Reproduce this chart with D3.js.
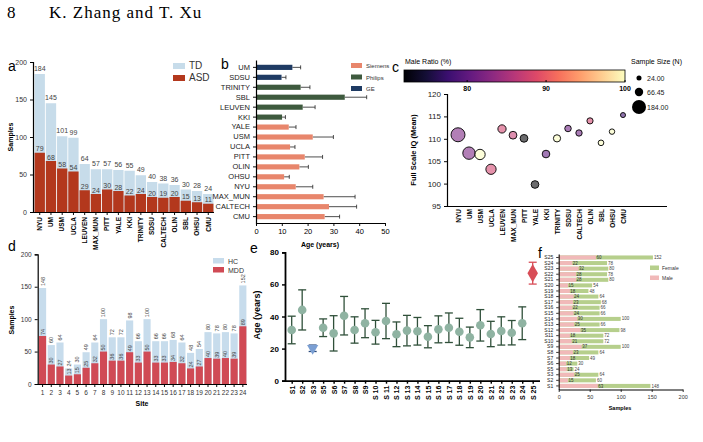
<!DOCTYPE html>
<html>
<head>
<meta charset="UTF-8">
<script src="https://d3js.org/d3.v7.min.js"></script>
<style>
  body { margin: 0; background: #fff; }
  svg text { font-family: "Liberation Sans", Arial, sans-serif; }
  .axis path, .axis line { stroke: #000; }
  .bold text { font-weight: bold; }
</style>
</head>
<body>
<svg id="fig" width="703" height="442"></svg>
<script>
// ---- panel a: samples per site (TD / ASD)
let sitesA = ["NYU","UM","USM","UCLA","LEUVEN","MAX_MUN","PITT","YALE","KKI","TRINITY","SDSU","CALTECH","OLIN","SBL","OHSU","CMU"];
let totalA = [184,145,101,99,64,57,57,56,55,49,40,38,36,30,28,24];
let asdA   = [79,68,58,54,29,24,30,28,22,24,20,19,20,15,13,11];

// ---- panel b: age by site and scanner
let sitesB  = ["UM","SDSU","TRINITY","SBL","LEUVEN","KKI","YALE","USM","UCLA","PITT","OLIN","OHSU","NYU","MAX_MUN","CALTECH","CMU"];
let ageB    = [14.1,9.9,17.3,34.4,18.1,10.1,12.7,22.0,13.2,18.9,16.8,10.9,15.4,26.2,28.3,26.6];
let ageSdB  = [3.2,1.7,3.6,8.5,4.8,1.3,2.8,8.0,1.9,6.9,3.5,2.0,6.6,12.2,10.7,5.8];
let scannerB = ["GE","GE","Philips","Philips","Philips","Philips","Siemens","Siemens","Siemens","Siemens","Siemens","Siemens","Siemens","Siemens","Siemens","Siemens"];
let scanners = ["Siemens","Philips","GE"];

// ---- panel c: FIQ vs site, colour = male ratio, size = N
let sitesC = ["NYU","UM","USM","UCLA","LEUVEN","MAX_MUN","PITT","YALE","KKI","TRINITY","SDSU","CALTECH","OLIN","SBL","OHSU","CMU"];
let iqC    = [110.9,106.8,106.5,103.2,112.2,110.8,110.1,99.8,106.6,110.1,112.3,111.3,114.0,109.1,111.6,115.3];
let maleC  = [82,82,100,88,88,87,72,72,80,100,81,81,88,100,100,78];
let nC     = [184,145,101,99,64,57,57,56,55,49,40,38,36,30,28,24];
let sizeLegend = [24.00, 66.45, 184.00];

// ---- panel d: samples per site (HC / MDD)
let sitesD = d3.range(1, 25);
let totalD = [148,60,64,24,30,49,64,100,72,72,98,66,100,66,66,68,64,48,54,80,78,80,78,152];
let mddD   = [74,30,27,13,15,25,32,50,36,36,49,33,50,33,33,34,32,24,27,40,39,40,39,89];

// ---- panel e: age mean and sd per site
let sitesE = ["S1","S2","S3","S5","S6","S7","S8","S9","S10","S11","S12","S13","S14","S15","S16","S17","S18","S19","S20","S21","S22","S23","S24","S25"];
let ageE   = [31.6,44.1,20.2,33.0,29.5,40.5,31.6,35.8,30.2,37.2,28.9,31.2,30.8,27.4,32.0,33.0,30.5,27.0,34.5,29.1,31.0,29.9,35.8,67.0];
let sdE    = [8.6,12.5,2.0,5.5,11.0,12.0,8.2,9.0,7.4,11.0,7.7,9.5,8.6,6.9,8.4,9.2,8.4,6.4,9.8,7.9,8.8,7.6,10.2,6.8];

// ---- panel f: sex per site
let sitesF  = ["S25","S24","S23","S22","S21","S20","S19","S18","S17","S16","S15","S14","S13","S12","S11","S10","S9","S8","S7","S6","S5","S3","S2","S1"];
let maleF   = [60,22,32,28,28,15,18,24,23,22,24,30,25,35,18,21,37,23,18,12,13,25,15,63];
let totalF  = [152,78,80,78,80,54,48,64,68,66,66,100,66,98,72,72,100,64,49,30,24,64,60,148];

let svg = d3.select("#fig");

// page header
svg.append("text").attr("x", 7).attr("y", 18).text("8")
  .style("font-family", "'Liberation Serif', serif").style("font-size", "17px");
svg.append("text").attr("x", 49).attr("y", 18).text("K. Zhang and T. Xu")
  .style("font-family", "'Liberation Serif', serif").style("font-size", "17px").style("letter-spacing", "1px");

function panelLetter(x, y, t) {
  svg.append("text").attr("x", x).attr("y", y).text(t).style("font-size", "14px");
}
function styleAxis(g, w, fs) {
  g.select(".domain").attr("stroke-width", w);
  g.selectAll(".tick line").attr("stroke-width", w * 0.8);
  g.selectAll("text").style("font-size", fs + "px").attr("fill", "#000");
}

// ===================== a =====================
panelLetter(8, 71, "a");
let xa = d3.scaleBand().domain(sitesA).range([34, 214]).paddingInner(0.08).paddingOuter(0.05);
let ya = d3.scaleLinear().domain([0, 200]).range([212, 62]);
let ga = svg.append("g");
ga.selectAll(".td").data(sitesA).join("rect")
  .attr("x", d => xa(d)).attr("width", xa.bandwidth())
  .attr("y", (d, i) => ya(totalA[i])).attr("height", (d, i) => ya(0) - ya(totalA[i]))
  .attr("fill", "#c7dcea");
ga.selectAll(".asd").data(sitesA).join("rect")
  .attr("x", d => xa(d)).attr("width", xa.bandwidth())
  .attr("y", (d, i) => ya(asdA[i])).attr("height", (d, i) => ya(0) - ya(asdA[i]))
  .attr("fill", "#b3381d");
ga.selectAll(".lt").data(sitesA).join("text")
  .attr("x", d => xa(d) + xa.bandwidth() / 2).attr("y", (d, i) => ya(totalA[i]) - 3)
  .attr("text-anchor", "middle").style("font-size", "7px").attr("fill", "#444")
  .text((d, i) => totalA[i]);
ga.selectAll(".la").data(sitesA).join("text")
  .attr("x", d => xa(d) + xa.bandwidth() / 2).attr("y", (d, i) => ya(asdA[i]) - 1.5)
  .attr("text-anchor", "middle").style("font-size", "7px").attr("fill", "#444")
  .text((d, i) => asdA[i]);
let axA = ga.append("g").attr("class", "axis").attr("transform", "translate(33,0)")
  .call(d3.axisLeft(ya).tickValues([0, 50, 100, 150, 200]).tickSize(3));
styleAxis(axA, 1.2, 7);
axA.selectAll("text").attr("fill", "#333");
let axAx = ga.append("g").attr("class", "axis bold").attr("transform", "translate(0,212)")
  .call(d3.axisBottom(xa).tickSize(3).tickSizeOuter(0));
styleAxis(axAx, 1.2, 6.5);
axAx.select(".domain").attr("d", "M33,0.5H214");
axAx.selectAll("text").attr("transform", "rotate(-90)").attr("text-anchor", "end")
  .attr("x", -5).attr("y", 0).attr("dy", "0.35em");
ga.append("text").attr("transform", "translate(13,137) rotate(-90)").attr("text-anchor", "middle")
  .style("font-size", "7px").style("font-weight", "bold").text("Samples");
[["TD", "#c7dcea", 63], ["ASD", "#b3381d", 75]].forEach(l => {
  ga.append("rect").attr("x", 173).attr("y", l[2]).attr("width", 12).attr("height", 6).attr("fill", l[1]);
  ga.append("text").attr("x", 189).attr("y", l[2] + 6).text(l[0]).style("font-size", "10px").attr("fill", "#333");
});

// ===================== b =====================
panelLetter(221, 69, "b");
let sColor = d3.scaleOrdinal().domain(scanners).range(["#e8866c", "#3e5a3e", "#1f3b63"]);
let xb = d3.scaleLinear().domain([0, 50]).range([256, 385]);
let yb = d3.scaleBand().domain(sitesB).range([60, 224]).padding(0.48);
let gb = svg.append("g");
gb.selectAll(".eb").data(sitesB).join("line")
  .attr("x1", (d, i) => xb(ageB[i])).attr("x2", (d, i) => xb(ageB[i] + ageSdB[i]))
  .attr("y1", d => yb(d) + yb.bandwidth() / 2).attr("y2", d => yb(d) + yb.bandwidth() / 2)
  .attr("stroke", "#222").attr("stroke-width", 0.8);
gb.selectAll(".ec").data(sitesB).join("line")
  .attr("x1", (d, i) => xb(ageB[i] + ageSdB[i])).attr("x2", (d, i) => xb(ageB[i] + ageSdB[i]))
  .attr("y1", d => yb(d) + yb.bandwidth() / 2 - 2).attr("y2", d => yb(d) + yb.bandwidth() / 2 + 2)
  .attr("stroke", "#222").attr("stroke-width", 0.8);
gb.selectAll(".bb").data(sitesB).join("rect")
  .attr("x", xb(0)).attr("y", d => yb(d)).attr("height", yb.bandwidth())
  .attr("width", (d, i) => xb(ageB[i]) - xb(0))
  .attr("fill", (d, i) => sColor(scannerB[i]));
let axBy = gb.append("g").attr("class", "axis").attr("transform", "translate(256,0)")
  .call(d3.axisLeft(yb).tickSize(3).tickSizeOuter(0));
styleAxis(axBy, 1.2, 7.5);
axBy.selectAll("text").attr("fill", "#222");
let axBx = gb.append("g").attr("class", "axis").attr("transform", "translate(0,223)")
  .call(d3.axisBottom(xb).ticks(5).tickSize(3).tickSizeOuter(0));
styleAxis(axBx, 1.2, 7.5);
axBx.selectAll("text").attr("dy", "0.6em");
gb.append("text").attr("x", 320).attr("y", 247).attr("text-anchor", "middle")
  .style("font-size", "7px").style("font-weight", "bold").text("Age (years)");
scanners.forEach((s, i) => {
  gb.append("rect").attr("x", 351).attr("y", 63 + i * 11.5).attr("width", 11).attr("height", 5).attr("fill", sColor(s));
  gb.append("text").attr("x", 366).attr("y", 68 + i * 11.5).text(s).style("font-size", "6px").attr("fill", "#333");
});

// ===================== c =====================
panelLetter(392, 72, "c");
let cbar = d3.scaleLinear().domain([72, 100]).range([404, 625]);
let defs = svg.append("defs");
let grad = defs.append("linearGradient").attr("id", "magma");
d3.range(0, 1.01, 0.1).forEach(t => {
  grad.append("stop").attr("offset", t).attr("stop-color", d3.interpolateMagma(t));
});
let gc = svg.append("g");
gc.append("rect").attr("x", 404).attr("y", 70).attr("width", 221).attr("height", 12)
  .attr("fill", "url(#magma)").attr("stroke", "#000").attr("stroke-width", 0.8);
[80, 90, 100].forEach(v => {
  gc.append("line").attr("x1", cbar(v)).attr("x2", cbar(v)).attr("y1", 80).attr("y2", 82).attr("stroke", "#000");
  gc.append("text").attr("x", cbar(v)).attr("y", 91).attr("text-anchor", "middle")
    .style("font-size", "7px").style("font-weight", "bold").text(v);
});
gc.append("text").attr("x", 405).attr("y", 64).text("Male Ratio (%)").style("font-size", "7px");
gc.append("text").attr("x", 631).attr("y", 64).text("Sample Size (N)").style("font-size", "7px");
let rC = d3.scaleSqrt().domain([0, 184]).range([0, 7]);
let colC = v => d3.interpolateMagma((v - 72) / 28);
[78, 92, 107].forEach((y, i) => {
  gc.append("circle").attr("cx", 639).attr("cy", y).attr("r", rC(sizeLegend[i])).attr("fill", "#000");
  gc.append("text").attr("x", 647).attr("y", y + 2.5).text(sizeLegend[i].toFixed(2)).style("font-size", "7px").attr("fill", "#222");
});
let xc = d3.scalePoint().domain(sitesC).range([458, 623]);
let yc = d3.scaleLinear().domain([95, 120]).range([206, 94]);
gc.selectAll(".dot").data(sitesC).join("circle")
  .attr("cx", d => xc(d)).attr("cy", (d, i) => yc(iqC[i])).attr("r", (d, i) => rC(nC[i]))
  .attr("fill", (d, i) => colC(maleC[i])).attr("fill-opacity", 0.58)
  .attr("stroke", "#000").attr("stroke-width", 0.9);
let axCy = gc.append("g").attr("class", "axis").attr("transform", "translate(447,0)")
  .call(d3.axisLeft(yc).tickValues([95, 100, 105, 110, 115, 120]).tickSize(3));
styleAxis(axCy, 1.2, 8);
axCy.selectAll("text").attr("fill", "#222");
let axCx = gc.append("g").attr("class", "axis bold").attr("transform", "translate(0,206)")
  .call(d3.axisBottom(xc).tickSize(0).tickSizeOuter(0));
styleAxis(axCx, 1.2, 6.5);
axCx.select(".domain").attr("d", "M447,0.5H667");
axCx.selectAll("text").attr("transform", "rotate(-90)").attr("text-anchor", "end")
  .attr("x", -3).attr("y", 0).attr("dy", "0.35em");
gc.append("text").attr("transform", "translate(416,150) rotate(-90)").attr("text-anchor", "middle")
  .style("font-size", "7.5px").style("font-weight", "bold").text("Full Scale IQ (Mean)");

// ===================== d =====================
panelLetter(8, 251, "d");
let xd = d3.scaleBand().domain(sitesD).range([39, 246.4]).paddingInner(0.18);
let yd = d3.scaleLinear().domain([0, 200]).range([384, 254.3]);
let gd = svg.append("g");
gd.selectAll(".hc").data(sitesD).join("rect")
  .attr("x", d => xd(d)).attr("width", xd.bandwidth())
  .attr("y", (d, i) => yd(totalD[i])).attr("height", (d, i) => yd(0) - yd(totalD[i]))
  .attr("fill", "#c7dcec");
gd.selectAll(".mdd").data(sitesD).join("rect")
  .attr("x", d => xd(d)).attr("width", xd.bandwidth())
  .attr("y", (d, i) => yd(mddD[i])).attr("height", (d, i) => yd(0) - yd(mddD[i]))
  .attr("fill", "#d04a55");
gd.selectAll(".lt").data(sitesD).join("text")
  .attr("transform", (d, i) => `translate(${xd(d) + xd.bandwidth() / 2},${yd(totalD[i]) - 2}) rotate(-90)`)
  .attr("dy", "0.35em").style("font-size", "5.5px").attr("fill", "#444")
  .text((d, i) => totalD[i]);
gd.selectAll(".lm").data(sitesD).join("text")
  .attr("transform", (d, i) => `translate(${xd(d) + xd.bandwidth() / 2},${yd(mddD[i]) - 1}) rotate(-90)`)
  .attr("dy", "0.35em").style("font-size", "5.5px").attr("fill", "#444")
  .text((d, i) => mddD[i]);
let axD = gd.append("g").attr("class", "axis").attr("transform", "translate(37.7,0)")
  .call(d3.axisLeft(yd).tickValues([0, 50, 100, 150, 200]).tickSize(3));
styleAxis(axD, 1.2, 6.5);
axD.selectAll("text").attr("fill", "#333");
let axDx = gd.append("g").attr("class", "axis").attr("transform", "translate(0,384)")
  .call(d3.axisBottom(xd).tickSize(3).tickSizeOuter(0));
styleAxis(axDx, 1.2, 6.5);
axDx.select(".domain").attr("d", "M37.7,0.5H247");
axDx.selectAll("text").attr("fill", "#333");
gd.append("text").attr("x", 142).attr("y", 406).attr("text-anchor", "middle")
  .style("font-size", "7px").style("font-weight", "bold").text("Site");
gd.append("text").attr("transform", "translate(14,320) rotate(-90)").attr("text-anchor", "middle")
  .style("font-size", "7px").style("font-weight", "bold").text("Samples");
[["HC", "#c7dcec", 258], ["MDD", "#d04a55", 267]].forEach(l => {
  gd.append("rect").attr("x", 213).attr("y", l[2]).attr("width", 11).attr("height", 5.5).attr("fill", l[1]);
  gd.append("text").attr("x", 228).attr("y", l[2] + 5.5).text(l[0]).style("font-size", "7px").attr("fill", "#333");
});

// ===================== e =====================
panelLetter(250, 253, "e");
let xe = d3.scalePoint().domain(sitesE).range([291.7, 532.7]);
let ye = d3.scaleLinear().domain([0, 80]).range([380.7, 252.3]);
let ge = svg.append("g");
let styleE = s => s === "S3" ? ["#7b9fd3", "#29497a"] : s === "S25" ? ["#d84d57", "#d84d57"] : ["#8fb3a2", "#30503a"];
sitesE.forEach((s, i) => {
  let cx = xe(s), c = styleE(s);
  let top = ye(ageE[i] + sdE[i]), bot = ye(ageE[i] - sdE[i]), cy = ye(ageE[i]);
  ge.append("line").attr("x1", cx).attr("x2", cx).attr("y1", top).attr("y2", bot).attr("stroke", c[1]).attr("stroke-width", 1.3);
  [top, bot].forEach(y => ge.append("line").attr("x1", cx - 4).attr("x2", cx + 4).attr("y1", y).attr("y2", y)
    .attr("stroke", c[1]).attr("stroke-width", 1.3));
  if (s === "S3") {
    ge.append("path").attr("d", d3.symbol(d3.symbolTriangle, 55)()).attr("transform", `translate(${cx},${cy}) rotate(180)`).attr("fill", c[0]);
  } else if (s === "S25") {
    ge.append("path").attr("d", d3.symbol(d3.symbolDiamond, 95)()).attr("transform", `translate(${cx},${cy})`).attr("fill", c[0]);
  } else {
    ge.append("circle").attr("cx", cx).attr("cy", cy).attr("r", 4.3).attr("fill", c[0]);
  }
});
let axEy = ge.append("g").attr("class", "axis bold").attr("transform", "translate(285,0)")
  .call(d3.axisLeft(ye).tickValues([0, 20, 40, 60, 80]).tickSize(3));
styleAxis(axEy, 1.8, 8);
let axEx = ge.append("g").attr("class", "axis bold").attr("transform", "translate(0,380.7)")
  .call(d3.axisBottom(xe).tickSize(3).tickSizeOuter(0));
styleAxis(axEx, 1.8, 7);
axEx.select(".domain").attr("d", "M285,0.5H540");
axEx.selectAll("text").text(d => d.length > 2 ? "S " + d.slice(1) : d)
  .attr("transform", "rotate(-90)").attr("text-anchor", "end")
  .attr("x", -5).attr("y", 0).attr("dy", "0.35em");
ge.append("text").attr("transform", "translate(260,315) rotate(-90)").attr("text-anchor", "middle")
  .style("font-size", "9px").style("font-weight", "bold").text("Age (years)");

// ===================== f =====================
panelLetter(538, 258, "f");
let xf = d3.scaleLinear().domain([0, 200]).range([558.7, 682.7]);
let yf = d3.scaleBand().domain(sitesF).range([253.9, 389.5]).padding(0.28);
let gf = svg.append("g");
gf.selectAll(".fe").data(sitesF).join("rect")
  .attr("x", xf(0)).attr("y", d => yf(d)).attr("height", yf.bandwidth())
  .attr("width", (d, i) => xf(totalF[i]) - xf(0)).attr("fill", "#b6cf8c");
gf.selectAll(".ma").data(sitesF).join("rect")
  .attr("x", xf(0)).attr("y", d => yf(d)).attr("height", yf.bandwidth())
  .attr("width", (d, i) => xf(maleF[i]) - xf(0)).attr("fill", "#f1b9b9");
gf.selectAll(".lm").data(sitesF).join("text")
  .attr("x", (d, i) => xf(maleF[i]) + 0.5).attr("y", d => yf(d) + yf.bandwidth() / 2)
  .attr("dy", "0.35em").style("font-size", "4.5px").attr("fill", "#333").text((d, i) => maleF[i]);
gf.selectAll(".lt").data(sitesF).join("text")
  .attr("x", (d, i) => xf(totalF[i]) + 1).attr("y", d => yf(d) + yf.bandwidth() / 2)
  .attr("dy", "0.35em").style("font-size", "4.5px").attr("fill", "#444").text((d, i) => totalF[i]);
let axFy = gf.append("g").attr("class", "axis").attr("transform", "translate(558.7,0)")
  .call(d3.axisLeft(yf).tickSize(2.5).tickSizeOuter(0));
styleAxis(axFy, 1, 5);
axFy.selectAll("text").attr("fill", "#222");
let axFx = gf.append("g").attr("class", "axis").attr("transform", "translate(0,389.5)")
  .call(d3.axisBottom(xf).tickValues([0, 50, 100, 150, 200]).tickSize(2.5).tickSizeOuter(0));
styleAxis(axFx, 1, 5.5);
axFx.selectAll("text").attr("fill", "#333");
gf.append("text").attr("x", 620).attr("y", 410).attr("text-anchor", "middle")
  .style("font-size", "5.5px").style("font-weight", "bold").text("Samples");
[["Female", "#b6cf8c", 265.5], ["Male", "#f1b9b9", 275.5]].forEach(l => {
  gf.append("rect").attr("x", 650).attr("y", l[2]).attr("width", 9).attr("height", 4.5).attr("fill", l[1]);
  gf.append("text").attr("x", 662).attr("y", l[2] + 4.5).text(l[0]).style("font-size", "5px").attr("fill", "#333");
});
</script>
</body>
</html>
